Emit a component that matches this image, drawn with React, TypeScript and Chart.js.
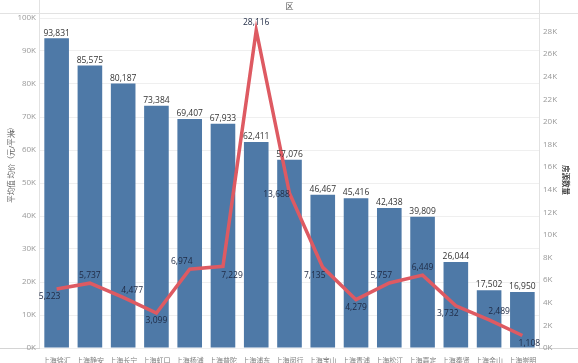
import React, { useEffect, useRef } from "react";
import { Chart, registerables } from "chart.js";

Chart.register(...registerables);

const categories = [
  "上海徐汇", "上海静安", "上海长宁", "上海虹口", "上海杨浦", "上海普陀", "上海浦东", "上海闵行",
  "上海宝山", "上海青浦", "上海松江", "上海嘉定", "上海奉贤", "上海金山", "上海崇明",
];
const avgPrice = [93831, 85575, 80187, 73384, 69407, 67933, 62411, 57076, 46467, 45416, 42438, 39809, 26044, 17502, 16950];
const listingCount = [5223, 5737, 4477, 3099, 6974, 7229, 28116, 13688, 7135, 4279, 5757, 6449, 3732, 2489, 1108];
const leftTicks = [0, 10000, 20000, 30000, 40000, 50000, 60000, 70000, 80000, 90000, 100000];
const rightTicks = [0, 2000, 4000, 6000, 8000, 10000, 12000, 14000, 16000, 18000, 20000, 22000, 24000, 26000, 28000];

// label placement offsets (style only)
const lineLabelOffsets: [number, number][] = [
  [-7, 8], [0, -8], [9, -7], [0, 8], [-8, -8], [9, 9], [0, -8], [-13, 1],
  [-8, 8], [0, 8], [-8, -7], [0, -8], [-8, 8], [10, -8], [7, 8],
];

const FONT = "'Open Sans', 'Noto Sans CJK SC', sans-serif";
const fmt = (v: number) => v.toLocaleString("en-US");

const decorPlugin = {
  id: "decor",
  beforeDraw(chart: any) {
    const { ctx, chartArea } = chart;
    ctx.save();
    ctx.fillStyle = "#ffffff";
    ctx.fillRect(0, 0, chart.width, chart.height);
    ctx.strokeStyle = "#e2e2e2";
    ctx.lineWidth = 1;
    ctx.beginPath();
    ctx.moveTo(0, 13.5);
    ctx.lineTo(chart.width, 13.5);
    ctx.moveTo(Math.round(chartArea.left) - 0.5, 0);
    ctx.lineTo(Math.round(chartArea.left) - 0.5, chartArea.bottom);
    ctx.moveTo(Math.round(chartArea.right) + 0.5, 0);
    ctx.lineTo(Math.round(chartArea.right) + 0.5, chartArea.bottom);
    ctx.stroke();
    ctx.strokeStyle = "#d4d4d4";
    ctx.beginPath();
    ctx.moveTo(0, Math.round(chartArea.bottom) + 0.5);
    ctx.lineTo(chart.width, Math.round(chartArea.bottom) + 0.5);
    ctx.stroke();
    // header title
    ctx.fillStyle = "#555555";
    ctx.font = `8px ${FONT}`;
    ctx.textAlign = "center";
    ctx.textBaseline = "middle";
    ctx.fillText("区", (chartArea.left + chartArea.right) / 2, 7);
    // left axis title
    ctx.save();
    ctx.translate(12, 163);
    ctx.rotate(-Math.PI / 2);
    ctx.fillStyle = "#666666";
    ctx.font = `7.5px ${FONT}`;
    ctx.fillText("平均值 均价（元/平米）", 0, 0);
    ctx.font = `bold 6px ${FONT}`;
    ctx.fillText("F", 32, 0);
    ctx.restore();
    // right axis title
    ctx.save();
    ctx.translate(565, 180);
    ctx.rotate(Math.PI / 2);
    ctx.fillStyle = "#444444";
    ctx.font = `bold 7.5px ${FONT}`;
    ctx.fillText("房源数量", 0, 0);
    ctx.restore();
    ctx.restore();
  },
  afterDatasetsDraw(chart: any) {
    const { ctx } = chart;
    ctx.save();
    ctx.font = `8.5px ${FONT}`;
    ctx.textAlign = "center";
    const barMeta = chart.getDatasetMeta(0);
    ctx.fillStyle = "#333333";
    ctx.textBaseline = "bottom";
    barMeta.data.forEach((el: any, i: number) => {
      ctx.fillText(fmt(avgPrice[i]), el.x, el.y - 1);
    });
    const lineMeta = chart.getDatasetMeta(1);
    ctx.fillStyle = "#1f2a44";
    ctx.textBaseline = "middle";
    lineMeta.data.forEach((el: any, i: number) => {
      const [dx, dy] = lineLabelOffsets[i] || [0, -8];
      ctx.fillText(fmt(listingCount[i]), el.x + dx, el.y + dy);
    });
    ctx.restore();
  },
};

export default function App() {
  const ref = useRef<HTMLCanvasElement | null>(null);
  useEffect(() => {
    if (!ref.current) return;
    const chart = new Chart(ref.current, {
      type: "bar",
      data: {
        labels: categories,
        datasets: [
          {
            type: "bar",
            label: "平均值 均价（元/平米）",
            data: avgPrice,
            backgroundColor: "#4e79a7",
            barPercentage: 0.74,
            categoryPercentage: 1,
            yAxisID: "y",
            order: 1,
          },
          {
            type: "line",
            label: "房源数量",
            data: listingCount,
            borderColor: "#de5a62",
            borderWidth: 3.5,
            pointRadius: 0,
            tension: 0,
            yAxisID: "y1",
            order: 0,
          } as any,
        ],
      },
      options: {
        responsive: false,
        animation: false,
        layout: { padding: { top: 18, left: 0, right: 0, bottom: 0 } },
        plugins: { legend: { display: false }, tooltip: { enabled: false } },
        scales: {
          x: {
            grid: { display: false },
            border: { display: false },
            ticks: {
              font: { size: 7, family: FONT },
              color: "#808080",
              padding: 1,
              maxRotation: 0,
              autoSkip: false,
            },
            afterFit: (s: any) => { s.height = 15; },
          },
          y: {
            position: "left",
            min: 0,
            max: 100000,
            afterBuildTicks: (s: any) => { s.ticks = leftTicks.map((v) => ({ value: v })); },
            ticks: {
              callback: (v: any) => `${Number(v) / 1000}K`,
              font: { size: 8, family: FONT },
              color: "#999999",
              padding: 4,
            },
            grid: { color: "#efefef", drawTicks: false },
            border: { display: false },
            afterFit: (s: any) => { s.width = 40; },
          },
          y1: {
            position: "right",
            min: 0,
            max: 29200,
            afterBuildTicks: (s: any) => { s.ticks = rightTicks.map((v) => ({ value: v })); },
            ticks: {
              callback: (v: any) => `${Number(v) / 1000}K`,
              font: { size: 8, family: FONT },
              color: "#999999",
              padding: 4,
            },
            grid: { display: false, drawTicks: false },
            border: { display: false },
            afterFit: (s: any) => { s.width = 39; },
          },
        },
      },
      plugins: [decorPlugin],
    });
    return () => chart.destroy();
  }, []);
  return (
    <div style={{ position: "fixed", left: 0, top: 0, width: 578, height: 363, background: "#fff" }}>
      <canvas ref={ref} width={578} height={363} style={{ display: "block" }} />
    </div>
  );
}
